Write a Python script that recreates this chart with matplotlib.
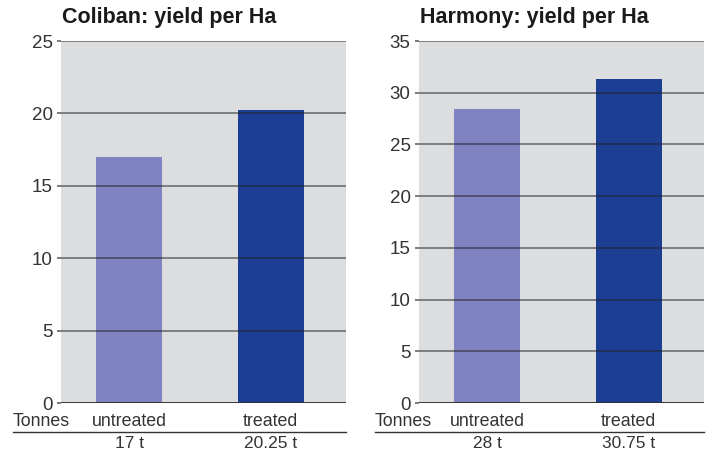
import matplotlib
matplotlib.use("Agg")
import matplotlib.pyplot as plt

# --- data ---
categories = ["untreated", "treated"]
coliban_yield = [17.0, 20.25]
harmony_yield = [28.4, 31.3]
coliban_labels = ["17 t", "20.25 t"]
harmony_labels = ["28 t", "30.75 t"]
coliban_ticks = [0, 5, 10, 15, 20, 25]
harmony_ticks = [0, 5, 10, 15, 20, 25, 30, 35]

BAR_COLORS = ["#8083c1", "#1c3f94"]
BG = "#dcdddf"
TXT = "#333333"

plt.rcParams['font.family'] = ['Liberation Sans', 'DejaVu Sans']

fig = plt.figure(figsize=(7.11, 4.54), dpi=100)
W, H = 711, 454


def panel(left_px, title, values, labels, ticks, line_x0):
    ax = fig.add_axes([left_px / W, 1 - 403 / H, 285 / W, 362 / H])
    ax.set_facecolor(BG)
    x = list(range(len(categories)))
    ax.bar(x, values, width=0.465, color=BAR_COLORS, zorder=2)
    ax.set_xlim(-0.48, 1.53)
    ax.set_ylim(ticks[0], ticks[-1])
    ax.set_yticks(ticks)
    ax.set_yticklabels([str(t) for t in ticks], fontsize=13.5, color=TXT)
    ax.tick_params(axis='y', length=3, width=1.2, color='#666666', pad=3)
    ax.set_xticks([])
    for t in ticks:
        ax.axhline(t, color='#222222', alpha=0.55, lw=1.3, zorder=3)
    ax.axhline(0, color='#333333', lw=1.3, zorder=3)
    for s in ax.spines.values():
        s.set_visible(False)

    # title
    fig.text((left_px + 1) / W, 1 - 18 / H, title, fontsize=15.5, fontweight='bold',
             color='#1a1a1a', ha='left', va='center')

    # category labels and tonnage under the axis
    for xi, cat, lab in zip(x, categories, labels):
        xf = ax.transData.transform((xi, 0))[0] / W
        fig.text(xf, 1 - 421 / H, cat, ha='center', va='center', fontsize=12.8, color=TXT)
        fig.text(xf, 1 - 443 / H, lab, ha='center', va='center', fontsize=12.5, color=TXT)
    fig.text((line_x0 + 28) / W, 1 - 421 / H, "Tonnes", ha='center', va='center',
             fontsize=12.8, color=TXT)
    fig.add_artist(plt.Line2D([line_x0 / W, (left_px + 285) / W], [1 - 432 / H, 1 - 432 / H],
                              color='#333333', lw=1.0))
    return ax


panel(61, "Coliban: yield per Ha", coliban_yield, coliban_labels, coliban_ticks, 13)
panel(419, "Harmony: yield per Ha", harmony_yield, harmony_labels, harmony_ticks, 375)

fig.savefig("out.png", dpi=100)
